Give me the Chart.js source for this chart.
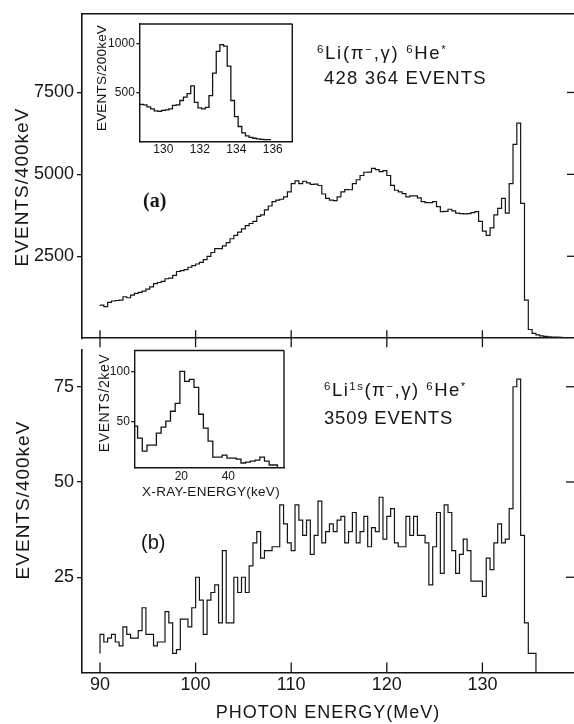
<!DOCTYPE html>
<html>
<head>
<meta charset="utf-8">
<script src="https://cdn.jsdelivr.net/npm/chart.js@4.4.1/dist/chart.umd.min.js"></script>
<style>
html,body{margin:0;padding:0;background:#fff;overflow:hidden;}
#wrap{position:relative;width:574px;height:724px;font-family:"Liberation Sans",Arial,sans-serif;color:#161616;}
canvas{position:absolute;}
.t{position:absolute;white-space:nowrap;line-height:1;}
.rot{transform:translate(-50%,-50%) rotate(-90deg);}
.ctr{transform:translate(-50%,-50%);}
sup{font-size:0.62em;position:relative;top:-0.55em;vertical-align:baseline;line-height:0;}
</style>
</head>
<body>
<div id="wrap">
  <canvas id="cA" width="574" height="352" style="left:0;top:0"></canvas>
  <canvas id="cB" width="574" height="388" style="left:0;top:336px"></canvas>
  <canvas id="iA" width="212" height="146" style="left:90px;top:14px"></canvas>
  <canvas id="iB" width="205" height="160" style="left:90px;top:340px"></canvas>

  <div class="t" style="left:317px;top:44px;font-size:18.5px;letter-spacing:1.7px"><sup>6</sup>Li(π<sup>−</sup>,γ) <sup>6</sup>He<sup>*</sup></div>
  <div class="t" style="left:324px;top:69px;font-size:18.5px;letter-spacing:1.2px">428 364 EVENTS</div>
  <div class="t" style="left:143px;top:190px;font-size:20px;font-family:'Liberation Serif',serif;font-weight:bold">(a)</div>
  <div class="t rot" style="left:21px;top:187px;font-size:19px;letter-spacing:1px">EVENTS/400keV</div>
  <div class="t rot" style="left:102px;top:78px;font-size:13.5px;letter-spacing:0.2px">EVENTS/200keV</div>

  <div class="t" style="left:324px;top:381px;font-size:18.5px;letter-spacing:1.5px"><sup>6</sup>Li<sup>1s</sup>(π<sup>−</sup>,γ) <sup>6</sup>He<sup>*</sup></div>
  <div class="t" style="left:324px;top:409px;font-size:18.5px;letter-spacing:0.8px">3509 EVENTS</div>
  <div class="t" style="left:141px;top:532px;font-size:20px">(b)</div>
  <div class="t rot" style="left:22px;top:500px;font-size:19px;letter-spacing:1px">EVENTS/400keV</div>
  <div class="t rot" style="left:104px;top:403px;font-size:14px;letter-spacing:0.6px">EVENTS/2keV</div>
  <div class="t ctr" style="left:211px;top:492px;font-size:13.5px;letter-spacing:0.3px">X-RAY-ENERGY(keV)</div>
  <div class="t ctr" style="left:328px;top:712px;font-size:18px;letter-spacing:1px">PHOTON ENERGY(MeV)</div>
</div>
<script>
// ---------------- data ----------------
const energyStart = 90.0;   // MeV, first bin edge of the main spectra
const binWidth = 0.4;       // MeV per bin (EVENTS/400keV)

// (a) 6Li(pi-,gamma)6He* inclusive spectrum, EVENTS/400keV
const eventsA = [
  1015,1010,965,1095,1135,1150,1165,1265,1235,1315,
  1365,1400,1435,1495,1565,1665,1700,1735,1815,1835,
  1915,2035,2060,2095,2165,2215,2265,2315,2395,2495,
  2615,2735,2735,2815,2915,3035,3135,3235,3335,3435,
  3500,3565,3715,3765,3915,4035,4165,4215,4240,4315,
  4465,4715,4800,4720,4790,4740,4695,4700,4660,4400,
  4265,4215,4200,4315,4465,4535,4530,4715,4835,4965,
  5065,5070,5185,5145,5085,5115,4965,4665,4515,4465,
  4415,4315,4345,4345,4285,4165,4135,4135,4165,4015,
  3865,3870,3935,3885,3815,3800,3795,3800,3835,3865,
  3565,3265,3135,3365,3765,3965,4265,3815,4715,5915,
  6565,4115,1165,265,150,100,70,55,45,35,
  30,25,20,15
];

// (b) 6Li1s(pi-,gamma)6He* coincidence spectrum, EVENTS/400keV
const eventsB = [
  5,10,8,9,10,8,7,12,10,9,
  9,11,17,10,10,7,8,8,16,13,
  5,6,14,14,12,17,25,19,10,19,
  21,23,13,32,13,13,25,21,25,21,
  28,34,37,30,32,32,33,33,44,39,
  34,32,44,40,36,40,31,36,45,34,
  37,39,37,40,41,34,37,42,34,37,
  41,33,38,37,46,35,41,43,34,33,
  33,41,36,41,36,36,34,23,33,42,
  26,44,42,32,26,31,35,32,24,24,
  24,20,30,27,34,39,34,35,43,75,
  77,36,13,5
];

// inset (a): EVENTS/200keV near the endpoint
const insetAStart = 128.7;
const insetABin = 0.2;
const insetACounts = [
  360,380,375,355,335,315,310,320,325,335,
  370,375,420,455,490,570,400,345,335,350,
  470,700,920,990,975,770,420,255,155,90,
  60,45,35,28,24,22
];

// inset (b): X-ray energy spectrum, EVENTS/2keV
const xrayEdges = [0,1.4,3.4,5.4,7.4,9.4,11.4,13.4,15.4,17.4,19.4,21.4,23.4,25.4,27.4,29.4,
                   31.4,33.4,35.4,37.4,39.4,41.4,43.4,45.4,47.4,49.4,51.4,53.4,55.4,57.4,59.4,60.9];
const xrayCounts = [50,45,33,20,26,26,38,44,50,60,68,100,90,92,84,57,43,30,14,14,16,13,13,12,8,9,10,11,14,10,6];

// tick labels
const photonTicks = [90,100,110,120,130];
const yTicksA = [2500,5000,7500];
const yTicksB = [25,50,75];
const insetAXTicks = [130,132,134,136];
const insetAYTicks = [500,1000];
const insetBXTicks = [20,40];
const insetBYTicks = [50,100];

// ---------------- helpers ----------------
const INK = '#141414';
const FONT = "'Liberation Sans', Arial, sans-serif";
Chart.defaults.font.family = FONT;
Chart.defaults.color = '#161616';

function uniformEdges(start, width, n){
  return Array.from({length:n+1}, (_, i) => +(start + i*width).toFixed(4));
}
function histogram(edges, counts, closeTo){
  const pts = counts.map((c, i) => ({x: edges[i], y: c}));
  pts.push({x: edges[counts.length], y: counts[counts.length-1]});
  if (closeTo !== undefined) pts.push({x: edges[counts.length], y: closeTo});
  return pts;
}
function fixedTicks(vals){ return s => { s.ticks = vals.map(v => ({value: v})); }; }

const framePlugin = {
  id: 'frame',
  beforeDraw(chart, args, opts){
    if (!opts.fill) return;
    const ca = chart.chartArea, ctx = chart.ctx;
    ctx.save(); ctx.fillStyle = '#fff';
    ctx.fillRect(ca.left, ca.top, ca.right - ca.left, ca.bottom - ca.top);
    ctx.restore();
  },
  afterDraw(chart, args, opts){
    const ca = chart.chartArea, ctx = chart.ctx;
    ctx.save();
    ctx.strokeStyle = INK; ctx.lineCap = 'butt';
    ctx.lineWidth = opts.width || 1.6;
    (opts.sides || []).forEach(side => {
      ctx.beginPath();
      if (side === 'top'){ ctx.moveTo(ca.left, ca.top); ctx.lineTo(ca.right, ca.top); }
      if (side === 'right'){ ctx.moveTo(ca.right, ca.top); ctx.lineTo(ca.right, ca.bottom); }
      ctx.stroke();
    });
    (opts.marks || []).forEach(m => {
      const sc = chart.scales[m.scale];
      ctx.lineWidth = m.width || 1.3;
      m.values.forEach(v => {
        const p = sc.getPixelForValue(v);
        ctx.beginPath();
        if (m.edge === 'bottom'){ ctx.moveTo(p, ca.bottom - m.inner); ctx.lineTo(p, ca.bottom + (m.outer||0)); }
        if (m.edge === 'right'){ ctx.moveTo(ca.right - m.inner, p); ctx.lineTo(ca.right + (m.outer||0), p); }
        ctx.stroke();
      });
    });
    ctx.restore();
  }
};

function lineDS(data, w){
  return {data, stepped:'after', borderColor:INK, borderWidth:w||1.2, pointRadius:0, fill:false, tension:0};
}
function baseOpts(padding, frame){
  return {
    responsive:false, animation:false, events:[],
    layout:{padding},
    plugins:{legend:{display:false}, tooltip:{enabled:false}, frame}
  };
}
function yAxis(min, max, width, ticks, size, tl, pad){
  return {
    type:'linear', min, max,
    afterFit: s => { s.width = width; },
    afterBuildTicks: fixedTicks(ticks),
    ticks:{callback: v => String(v), font:{size, family:FONT}, color:'#161616', padding:pad},
    grid:{drawOnChartArea:false, drawTicks:true, tickLength:tl, color:INK, lineWidth:1.3},
    border:{display:true, color:INK, width:1.6}
  };
}
function xAxis(min, max, height, ticks, size, pad, showLabels){
  return {
    type:'linear', min, max, position:'bottom',
    afterFit: s => { s.height = height; },
    afterBuildTicks: fixedTicks(ticks),
    ticks:{display:showLabels, callback: v => String(v), font:{size, family:FONT}, color:'#161616', padding:pad, maxRotation:0, autoSkip:false},
    grid:{display:false, drawTicks:false},
    border:{display:true, color:INK, width:1.6}
  };
}

// ---------------- main panel (a) ----------------
const edgesA = uniformEdges(energyStart, binWidth, eventsA.length);
new Chart(document.getElementById('cA'), {
  type:'line',
  data:{datasets:[lineDS(histogram(edgesA, eventsA))]},
  options:Object.assign(baseOpts({top:10.5, left:0, right:0, bottom:0}, {
      sides:['top'],
      marks:[{scale:'x', values:photonTicks, edge:'bottom', inner:8, outer:9},
             {scale:'y', values:yTicksA, edge:'right', inner:7}]
    }), {
    scales:{
      x: xAxis(88.117, 139.58, 10.3, photonTicks, 18, 2, false),
      y: yAxis(0, 9900, 82, yTicksA, 18, 5, 3)
    }
  }),
  plugins:[framePlugin]
});

// ---------------- main panel (b) ----------------
const edgesB = uniformEdges(energyStart, binWidth, eventsB.length);
new Chart(document.getElementById('cB'), {
  type:'line',
  data:{datasets:[lineDS(histogram(edgesB, eventsB, 0))]},
  options:Object.assign(baseOpts({top:5.7, left:0, right:0, bottom:0}, {
      sides:[],
      marks:[{scale:'x', values:photonTicks, edge:'bottom', inner:10},
             {scale:'y', values:yTicksB, edge:'right', inner:8}]
    }), {
    scales:{
      x: xAxis(88.117, 139.58, 51.5, photonTicks, 18, 2, true),
      y: yAxis(0, 84.7, 82, yTicksB, 18, 5, 3)
    }
  }),
  plugins:[framePlugin]
});

// ---------------- inset (a) ----------------
const edgesIA = uniformEdges(insetAStart, insetABin, insetACounts.length);
new Chart(document.getElementById('iA'), {
  type:'line',
  data:{datasets:[lineDS(histogram(edgesIA, insetACounts), 1.3)]},
  options:Object.assign(baseOpts({top:10, left:0, right:9.7, bottom:0}, {fill:true, sides:['top','right'], width:1.4}), {
    scales:{
      x: Object.assign(xAxis(128.68, 137.07, 18.3, insetAXTicks, 12, 1, true), {border:{display:true,color:INK,width:1.4}}),
      y: Object.assign(yAxis(0, 1200, 49.3, insetAYTicks, 12, 3, 1.5), {border:{display:true,color:INK,width:1.4}})
    }
  }),
  plugins:[framePlugin]
});

// ---------------- inset (b) ----------------
new Chart(document.getElementById('iB'), {
  type:'line',
  data:{datasets:[lineDS(histogram(xrayEdges, xrayCounts, 3), 1.3)]},
  options:Object.assign(baseOpts({top:10.5, left:0, right:11, bottom:0}, {fill:true, sides:['top','right'], width:1.4}), {
    scales:{
      x: Object.assign(xAxis(0, 63.7, 32, insetBXTicks, 12, 1.8, true), {border:{display:true,color:INK,width:1.4}}),
      y: Object.assign(yAxis(3, 121, 44.3, insetBYTicks, 12, 3, 1.5), {border:{display:true,color:INK,width:1.4}})
    }
  }),
  plugins:[framePlugin]
});
</script>
</body>
</html>
